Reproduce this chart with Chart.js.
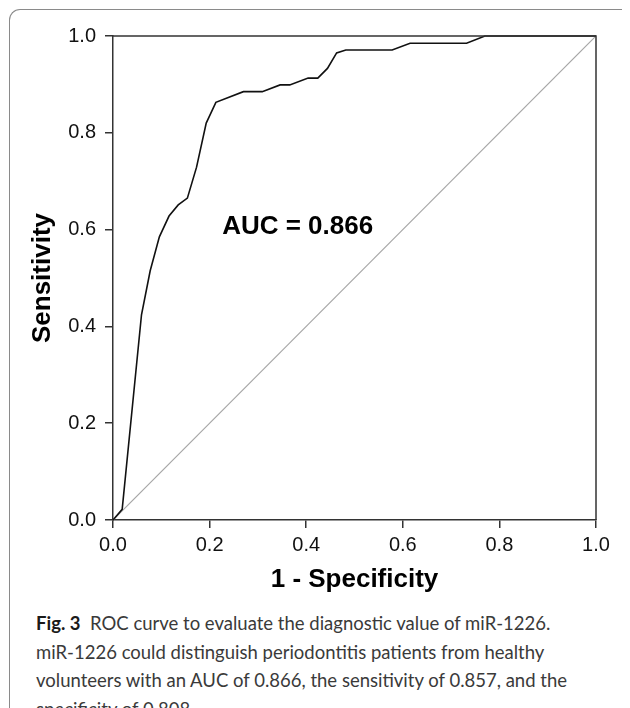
<!DOCTYPE html>
<html>
<head>
<meta charset="utf-8">
<script src="https://cdn.jsdelivr.net/npm/chart.js@4/dist/chart.umd.min.js"></script>
<style>
  html, body { margin: 0; padding: 0; background: #fff; }
  body { width: 630px; height: 708px; position: relative; overflow: hidden; }
  #frame {
    position: absolute; left: 9px; top: 9px; width: 612px; height: 720px;
    border-left: 1.5px solid #8a8a8a; border-top: 1.5px solid #8a8a8a;
    border-top-left-radius: 11px;
  }
  #chart-box { position: absolute; left: 0; top: 0; width: 630px; height: 600px; }
  #caption {
    position: absolute; left: 36px; top: 609px; width: 590px;
    font-family: Lato, sans-serif; font-size: 18.5px; line-height: 28.5px;
    color: #3a3a3a; white-space: nowrap;
  }
  #caption b { color: #1a1a1a; }
</style>
</head>
<body>
<div id="frame"></div>
<div id="chart-box"><canvas id="roc-chart"></canvas></div>
<div id="caption">
  <b>Fig. 3</b>&nbsp; ROC curve to evaluate the diagnostic value of miR-1226.<br>
  miR-1226 could distinguish periodontitis patients from healthy<br>
  volunteers with an AUC of 0.866, the sensitivity of 0.857, and the<br>
  specificity of 0.808
</div>

<script>
'use strict';

// ROC curve points
const falsePositiveRate = [0, 0.019, 0.059, 0.077, 0.096, 0.116, 0.135, 0.154, 0.173, 0.193, 0.213,
  0.270, 0.309, 0.346, 0.366, 0.404, 0.424, 0.444, 0.463, 0.482, 0.578, 0.615, 0.732, 0.770, 1.0];
const truePositiveRate = [0, 0.022, 0.424, 0.515, 0.585, 0.628, 0.651, 0.665, 0.729, 0.820, 0.863,
  0.885, 0.885, 0.899, 0.899, 0.913, 0.913, 0.933, 0.965, 0.971, 0.971, 0.985, 0.985, 1.0, 1.0];

// reference (chance) line
const chanceX = [0, 1];
const chanceY = [0, 1];

const tickValues = [0, 0.2, 0.4, 0.6, 0.8, 1.0];
const aucLabel = 'AUC = 0.866';

const tickFont = { family: '"Liberation Sans", Arial, sans-serif', size: 20 };
const titleFont = { family: '"Liberation Sans", Arial, sans-serif', size: 26, weight: 'bold' };

function toPoints(xs, ys) {
  let pts = [];
  for (let i = 0; i < xs.length; i++) {
    pts.push({ x: xs[i], y: ys[i] });
  }
  return pts;
}

// box round the plot + AUC text
const frameAndLabel = {
  id: 'frameAndLabel',
  afterDatasetsDraw(chart) {
    const { ctx, chartArea, scales } = chart;
    ctx.save();
    ctx.strokeStyle = '#333';
    ctx.lineWidth = 1.5;
    ctx.beginPath();
    ctx.moveTo(chartArea.left, chartArea.top);
    ctx.lineTo(chartArea.right, chartArea.top);
    ctx.lineTo(chartArea.right, chartArea.bottom);
    ctx.stroke();

    ctx.fillStyle = '#000';
    ctx.font = 'bold 26px "Liberation Sans", Arial, sans-serif';
    ctx.textAlign = 'left';
    ctx.textBaseline = 'middle';
    ctx.fillText(aucLabel, scales.x.getPixelForValue(0.226), scales.y.getPixelForValue(0.606));
    ctx.restore();
  }
};

const ctx = document.getElementById('roc-chart').getContext('2d');

new Chart(ctx, {
  type: 'line',
  data: {
    datasets: [{
      label: 'chance',
      data: toPoints(chanceX, chanceY),
      borderColor: '#a6a6a6',
      borderWidth: 1.2,
      pointRadius: 0,
      tension: 0,
      order: 2,
    }, {
      label: 'miR-1226',
      data: toPoints(falsePositiveRate, truePositiveRate),
      borderColor: '#111',
      borderWidth: 1.6,
      pointRadius: 0,
      tension: 0,
      clip: false,
      order: 1,
    }],
  },
  options: {
    responsive: true,
    maintainAspectRatio: false,
    animation: false,
    events: [],
    layout: { padding: { left: 0, top: 36, right: 34, bottom: 0 } },
    plugins: {
      legend: { display: false },
      tooltip: { enabled: false },
    },
    scales: {
      x: {
        type: 'linear',
        min: 0,
        max: 1,
        afterFit(scale) { scale.height = 80; },
        afterBuildTicks(scale) { scale.ticks = tickValues.map(v => ({ value: v })); },
        ticks: {
          color: '#111',
          font: tickFont,
          padding: 5,
          maxRotation: 0,
          callback: v => v.toFixed(1),
        },
        grid: { drawOnChartArea: false, drawTicks: true, tickLength: 8, color: '#333', lineWidth: 1.5 },
        border: { color: '#333', width: 1.5 },
        title: { display: true, text: '1 - Specificity', color: '#000', font: titleFont, padding: { top: 0, bottom: 5 } },
      },
      y: {
        type: 'linear',
        min: 0,
        max: 1,
        afterFit(scale) { scale.width = 113; },
        afterBuildTicks(scale) { scale.ticks = tickValues.map(v => ({ value: v })); },
        ticks: {
          color: '#111',
          font: tickFont,
          padding: 9,
          callback: v => v.toFixed(1),
        },
        grid: { drawOnChartArea: false, drawTicks: true, tickLength: 8, color: '#333', lineWidth: 1.5 },
        border: { color: '#333', width: 1.5 },
        title: { display: true, text: 'Sensitivity', color: '#000', font: titleFont, padding: { top: 27, bottom: 0 } },
      },
    },
  },
  plugins: [frameAndLabel],
});
</script>
</body>
</html>
